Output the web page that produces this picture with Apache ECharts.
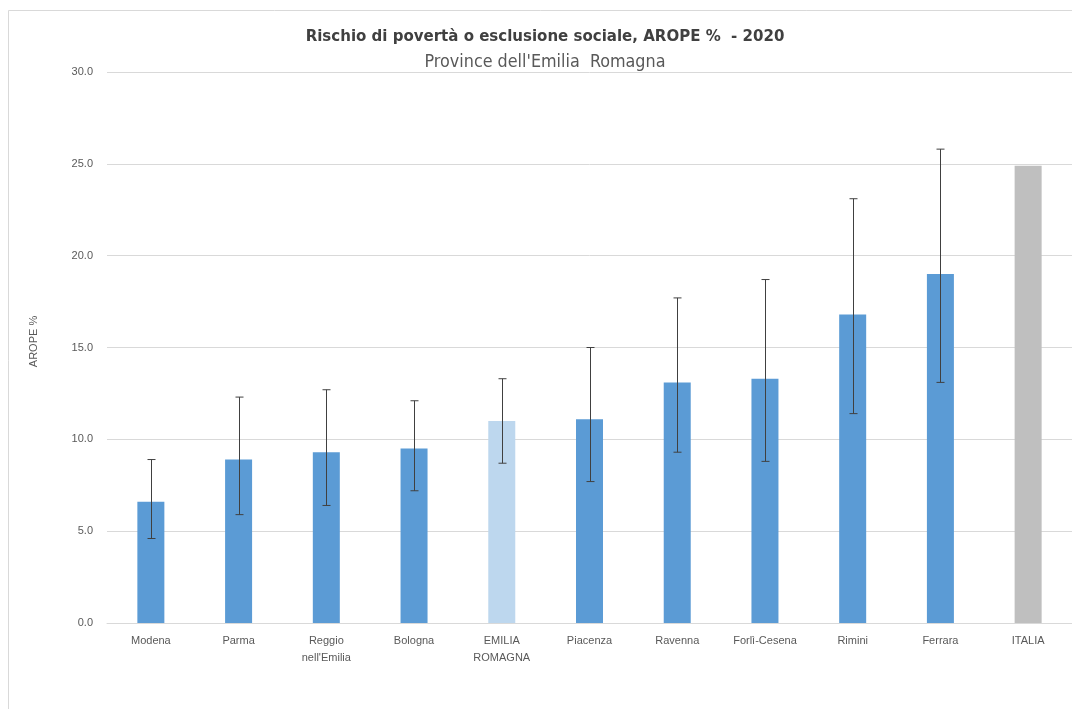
<!DOCTYPE html>
<html>
<head>
<meta charset="utf-8">
<script src="https://cdn.jsdelivr.net/npm/echarts@6/dist/echarts.min.js"></script>
<style>html,body{margin:0;padding:0;background:#fff;}#c{width:1072px;height:709px;}</style>
</head>
<body>
<div id="c"></div>
<script>
const categories = ['Modena','Parma','Reggio\nnell\'Emilia','Bologna','EMILIA\nROMAGNA','Piacenza','Ravenna','Forlì-Cesena','Rimini','Ferrara','ITALIA'];
const values = [6.6, 8.9, 9.3, 9.5, 11.0, 11.1, 13.1, 13.3, 16.8, 19.0, 24.9];
const errLow = [4.6, 5.9, 6.4, 7.2, 8.7, 7.7, 9.3, 8.8, 11.4, 13.1, null];
const errHigh = [8.9, 12.3, 12.7, 12.1, 13.3, 15.0, 17.7, 18.7, 23.1, 25.8, null];
const yTicks = [0, 5, 10, 15, 20, 25, 30];

const barColor = '#5b9bd5', regionColor = '#bdd7ee', italyColor = '#bfbfbf';
const barData = values.map((v, i) => ({
  value: v,
  itemStyle: { color: categories[i].startsWith('EMILIA') ? regionColor : (categories[i] === 'ITALIA' ? italyColor : barColor) }
}));
const errData = categories.map((c, i) => errLow[i] == null ? [i, null, null] : [i, errLow[i], errHigh[i]]);

const chart = echarts.init(document.getElementById('c'));
const font = '"DejaVu Sans Condensed",sans-serif';
chart.setOption({
  animation: false,
  backgroundColor: '#fff',
  title: {
    text: 'Rischio di povertà o esclusione sociale, AROPE %  - 2020',
    subtext: "Province dell'Emilia  Romagna",
    left: 540, textAlign: 'center', top: 23, itemGap: 8,
    textStyle: { fontFamily: font, fontSize: 16.7, fontWeight: 'bold', color: '#404040' },
    subtextStyle: { fontFamily: font, fontSize: 17.8, color: '#595959' }
  },
  graphic: [{
    type: 'rect', shape: { x: 8.5, y: 10.5, width: 1080, height: 720 },
    style: { fill: 'none', stroke: '#d9d9d9', lineWidth: 1 }, silent: true, z: -1
  }],
  grid: { left: 107, right: 0, top: 72, bottom: 86 },
  xAxis: {
    type: 'category', data: categories,
    axisLine: { lineStyle: { color: '#d9d9d9' } },
    axisTick: { show: false },
    axisLabel: { color: '#595959', fontSize: 11, fontFamily: 'sans-serif', margin: 9, lineHeight: 17, interval: 0 }
  },
  yAxis: {
    type: 'value', min: yTicks[0], max: yTicks[yTicks.length - 1], interval: 5,
    name: 'AROPE %', nameLocation: 'middle', nameGap: 68, nameRotate: 90,
    nameTextStyle: { color: '#595959', fontSize: 11, fontFamily: 'sans-serif', padding: [0, 0, 0, 12] },
    axisLine: { show: false }, axisTick: { show: false },
    axisLabel: { color: '#595959', fontSize: 11, fontFamily: 'sans-serif', margin: 14, formatter: v => v.toFixed(1) },
    splitLine: { lineStyle: { color: '#d9d9d9' } }
  },
  series: [{
    type: 'bar', data: barData, barWidth: 27
  }, {
    type: 'custom', data: errData, z: 10,
    renderItem: function (params, api) {
      const lo = api.value(1), hi = api.value(2);
      if (lo == null || isNaN(lo)) return null;
      const x = api.value(0);
      const pLo = api.coord([x, lo]), pHi = api.coord([x, hi]);
      const cx = Math.round(pLo[0]) + 0.5, half = 4;
      const st = { stroke: '#404040', lineWidth: 1 };
      return { type: 'group', children: [
        { type: 'line', shape: { x1: cx, y1: pLo[1], x2: cx, y2: pHi[1] }, style: st },
        { type: 'line', shape: { x1: cx - half, y1: pLo[1], x2: cx + half, y2: pLo[1] }, style: st },
        { type: 'line', shape: { x1: cx - half, y1: pHi[1], x2: cx + half, y2: pHi[1] }, style: st }
      ]};
    }
  }]
});
</script>
</body>
</html>
